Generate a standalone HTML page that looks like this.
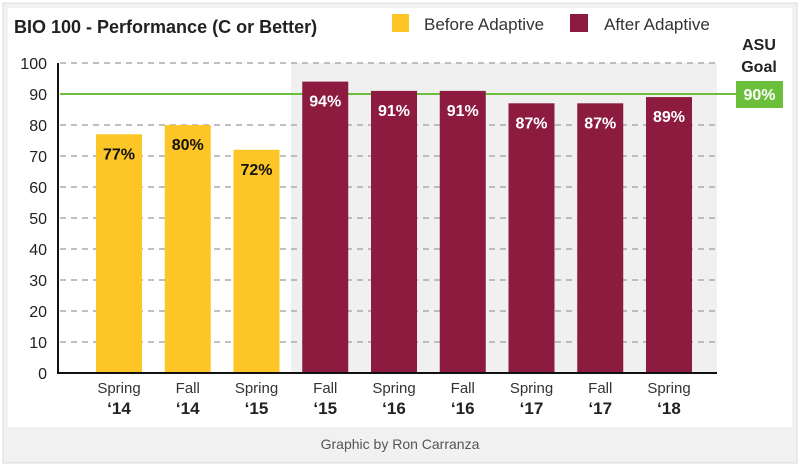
<!DOCTYPE html>
<html><head><meta charset="utf-8"><style>
body{margin:0;width:800px;height:467px;overflow:hidden;background:#fff;font-family:"Liberation Sans",sans-serif}
</style></head><body>
<svg width="800" height="467" xmlns="http://www.w3.org/2000/svg">
<rect x="3" y="3" width="794" height="460" fill="#f1f1f1" stroke="#dcdcdc"/>
<rect x="8" y="8" width="784" height="419" fill="#fff"/>
<text x="14" y="33" font-size="18" font-weight="bold" fill="#222">BIO 100 - Performance (C or Better)</text>
<rect x="392" y="14" width="17" height="18" fill="#fdc626"/>
<text x="424" y="30" font-size="17" fill="#333" font-family="Liberation Sans Narrow, Liberation Sans, sans-serif">Before Adaptive</text>
<rect x="570" y="14" width="18" height="18" fill="#8c1b3f"/>
<text x="604" y="30" font-size="17" fill="#333" font-family="Liberation Sans Narrow, Liberation Sans, sans-serif">After Adaptive</text>
<rect x="291" y="63" width="426" height="310" fill="#f0f0f1"/>
<g id="grid"></g><g id="goal"></g><g id="bars"></g><g id="labels"></g>
<line x1="58" y1="63" x2="58" y2="374" stroke="#111" stroke-width="2"/>
<line x1="57" y1="373" x2="717" y2="373" stroke="#111" stroke-width="2"/>
<text x="759" y="50" font-size="16" font-weight="bold" text-anchor="middle" fill="#222">ASU</text>
<text x="759" y="72" font-size="16" font-weight="bold" text-anchor="middle" fill="#222">Goal</text>
<text x="400" y="449" font-size="14" text-anchor="middle" fill="#555">Graphic by Ron Carranza</text>
</svg>
<script>
const categories=["Spring","Fall","Spring","Fall","Spring","Fall","Spring","Fall","Spring"];
const years=["‘14","‘14","‘15","‘15","‘16","‘16","‘17","‘17","‘18"];
const values=[77,80,72,94,91,91,87,87,89];
const phase=["before","before","before","after","after","after","after","after","after"];
const yTicks=[0,10,20,30,40,50,60,70,80,90,100];
const goal=[90];
const NS="http://www.w3.org/2000/svg";
const y=v=>373-v*3.1, x=i=>119+i*68.75;
function mk(t,a,p,txt){const e=document.createElementNS(NS,t);for(const k in a)e.setAttribute(k,a[k]);if(txt!=null)e.textContent=txt;p.appendChild(e);return e;}
const grid=document.getElementById('grid'),goalG=document.getElementById('goal'),bars=document.getElementById('bars'),labels=document.getElementById('labels');
yTicks.forEach(t=>{
  if(t>0){const l=mk('line',{x1:60,x2:717,y1:y(t),y2:y(t),stroke:'#aaa','stroke-dasharray':'6,5','stroke-width':1.5},grid);
  
  }
  const tx=mk('text',{x:47,y:y(t)+6,'font-size':16,'text-anchor':'end',fill:'#222'},grid,String(t));
  
  
});
const gl=mk('line',{x1:60,x2:737,y1:y(goal[0]),y2:y(goal[0]),stroke:'#6cbf3a','stroke-width':2},goalG);


const gb=mk('rect',{x:736,y:y(goal[0])-13,width:47,height:27,fill:'#6cbf3a'},goalG);


const gt=mk('text',{x:759.5,y:y(goal[0])+6,'font-size':16,'font-weight':'bold','text-anchor':'middle',fill:'#fff'},goalG,goal[0]+'%');


values.forEach((v,i)=>{
  const b=mk('rect',{x:x(i)-23,y:y(v),width:46,height:373-y(v),fill:phase[i]==='before'?'#fdc626':'#8c1b3f'},bars);
  
  
  const t=mk('text',{x:x(i),y:y(v)+25,'font-size':16,'font-weight':'bold','text-anchor':'middle',fill:phase[i]==='before'?'#111':'#fff'},labels,v+'%');
  
  
  const c=mk('text',{x:x(i),y:393,'font-size':15,'text-anchor':'middle',fill:'#333','font-family':'Liberation Sans Narrow, Liberation Sans, sans-serif'},labels,categories[i]);
  
  
  const yr=mk('text',{x:x(i),y:414,'font-size':17,'font-weight':'bold','text-anchor':'middle',fill:'#222'},labels,years[i]);
  
  
});
</script>
</body></html>
